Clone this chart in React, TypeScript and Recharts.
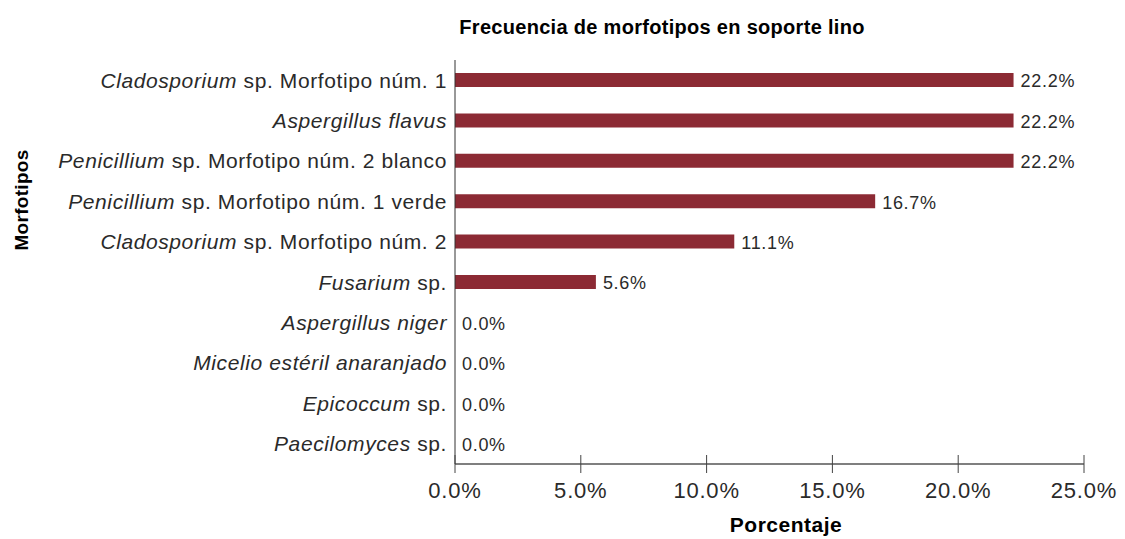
import React from 'react';
import { BarChart, Bar, XAxis, YAxis, LabelList } from 'recharts';

// genus part (italic) + remainder (upright)
const genusNames = [
  'Cladosporium',
  'Aspergillus flavus',
  'Penicillium',
  'Penicillium',
  'Cladosporium',
  'Fusarium',
  'Aspergillus niger',
  'Micelio estéril anaranjado',
  'Epicoccum',
  'Paecilomyces',
];
const nameSuffixes = [
  ' sp. Morfotipo núm. 1',
  '',
  ' sp. Morfotipo núm. 2 blanco',
  ' sp. Morfotipo núm. 1 verde',
  ' sp. Morfotipo núm. 2',
  ' sp.',
  '',
  '',
  ' sp.',
  ' sp.',
];
const percentages = [22.2, 22.2, 22.2, 16.7, 11.1, 5.6, 0, 0, 0, 0];
const xTicks = [0, 5, 10, 15, 20, 25];

const data = genusNames.map((g, i) => ({
  name: String(i),
  genus: g,
  rest: nameSuffixes[i],
  value: percentages[i],
}));

const FONT = '"Liberation Sans", Arial, Helvetica, sans-serif';
const BAR_COLOR = '#8c2a34';
const TEXT = '#2a2a2a';

const YTick = (props: any) => {
  const { x, y, payload } = props;
  const row = data[Number(payload.value)];
  return (
    <text x={x} y={y} dy="0.35em" textAnchor="end" fontFamily={FONT} fontSize={21} letterSpacing={0.6} fill={TEXT}>
      <tspan fontStyle="italic">{row.genus}</tspan>
      {row.rest ? <tspan>{row.rest}</tspan> : null}
    </text>
  );
};

const XTick = (props: any) => {
  const { x, y, payload } = props;
  return (
    <g>
      <line x1={x} x2={x} y1={y - 9} y2={y + 9} stroke="#444" strokeWidth={1} />
      <text x={x} y={y + 34} textAnchor="middle" fontFamily={FONT} fontSize={22} letterSpacing={0.8} fill={TEXT}>
        {`${payload.value.toFixed(1)}%`}
      </text>
    </g>
  );
};

const BarValue = (props: any) => {
  const { x, y, width, height, value } = props;
  return (
    <text
      x={Number(x) + Number(width || 0) + 7}
      y={Number(y) + Number(height) / 2 + 1}
      dy="0.35em"
      fontFamily={FONT}
      fontSize={18}
      letterSpacing={0.7}
      fill={TEXT}
    >
      {`${Number(value).toFixed(1)}%`}
    </text>
  );
};

export default function App() {
  return (
    <div style={{ position: 'absolute', left: 0, top: 0, width: 1125, height: 539, background: '#fff', fontFamily: FONT, overflow: 'hidden' }}>
      <div
        style={{
          position: 'absolute', left: 0, width: 1324, top: 16, textAlign: 'center',
          fontSize: 20, fontWeight: 'bold', color: '#000', lineHeight: '22px', letterSpacing: 0.3,
        }}
      >
        Frecuencia de morfotipos en soporte lino
      </div>
      <div
        style={{
          position: 'absolute', left: 686, width: 200, top: 514, textAlign: 'center',
          fontSize: 21, fontWeight: 'bold', color: '#000', lineHeight: '22px', letterSpacing: 0.5,
        }}
      >
        Porcentaje
      </div>
      <div
        style={{
          position: 'absolute', left: 22, top: 200, transform: 'translate(-50%, -50%) rotate(-90deg)',
          fontSize: 19, fontWeight: 'bold', color: '#000', whiteSpace: 'nowrap', lineHeight: '22px', letterSpacing: 0.3,
        }}
      >
        Morfotipos
      </div>
      <BarChart
        width={1125}
        height={539}
        data={data}
        layout="vertical"
        margin={{ top: 60, right: 41, bottom: 30, left: 0 }}
        barCategoryGap={0}
      >
        <XAxis
          type="number"
          domain={[0, 25]}
          ticks={xTicks}
          height={45}
          axisLine={{ stroke: '#555', strokeWidth: 1.5 }}
          tickLine={false}
          tickSize={0}
          tickMargin={0}
          tick={<XTick />}
          interval={0}
        />
        <YAxis
          type="category"
          dataKey="name"
          width={455}
          axisLine={{ stroke: '#333', strokeWidth: 1 }}
          tickLine={false}
          tickSize={0}
          tickMargin={8}
          tick={<YTick />}
          interval={0}
        />
        <Bar
          dataKey="value"
          fill={BAR_COLOR}
          barSize={14}
          minPointSize={(v: any) => (Number(v) === 0 ? 0.01 : 0)}
          isAnimationActive={false}
        >
          <LabelList dataKey="value" content={<BarValue />} />
        </Bar>
      </BarChart>
    </div>
  );
}
